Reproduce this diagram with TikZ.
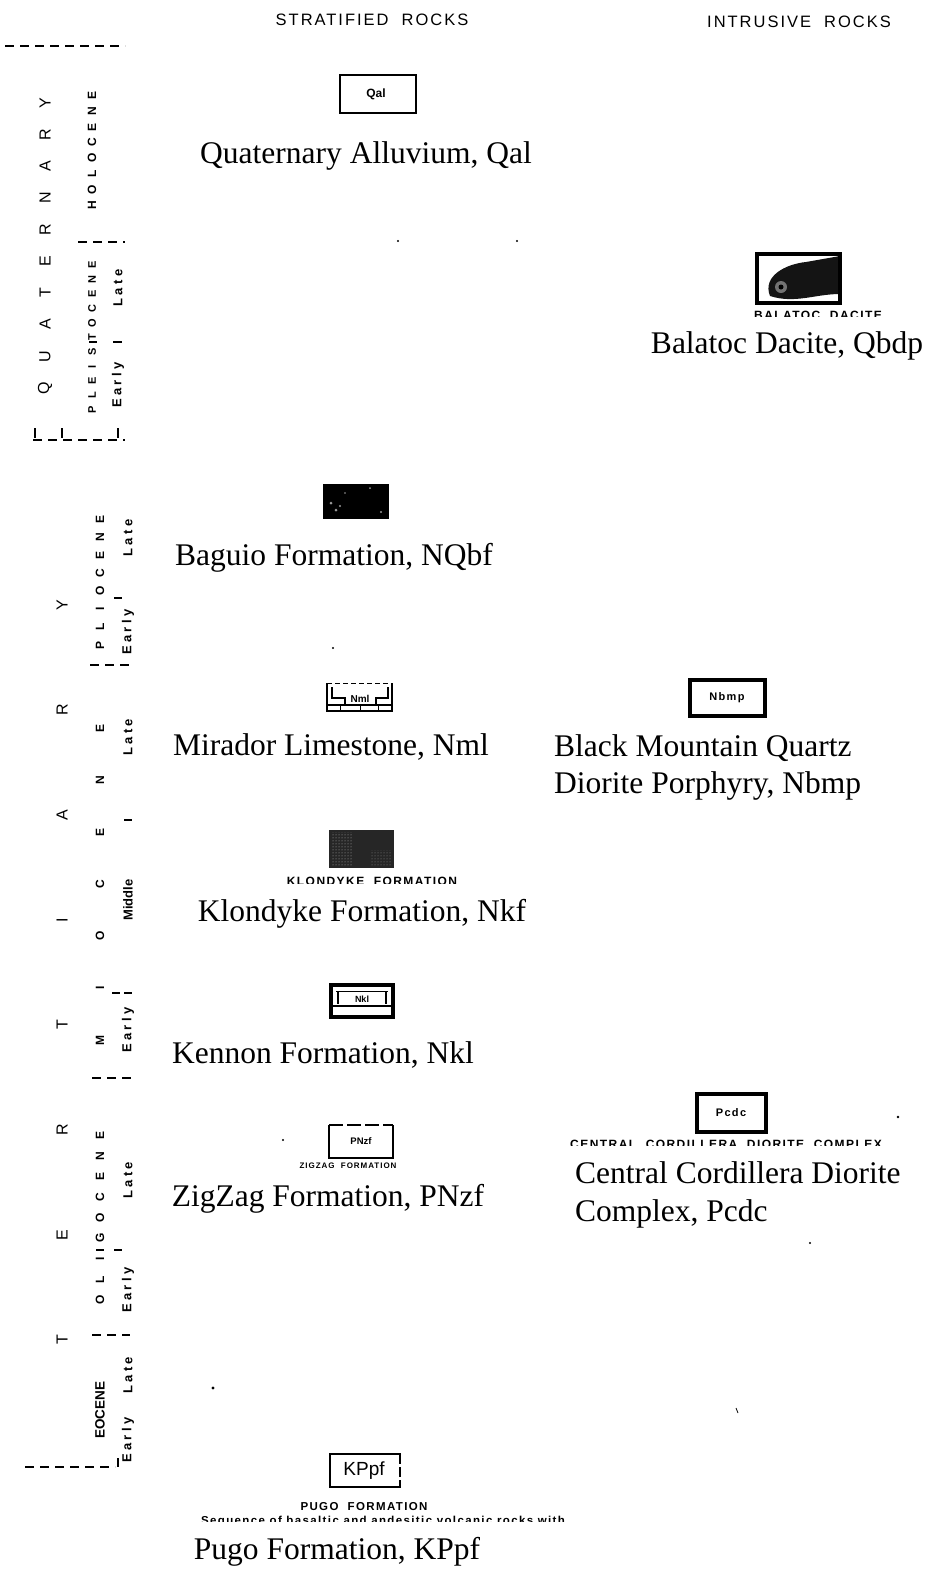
\documentclass[tikz,border=0pt]{standalone}
\usepackage{fontspec}
\setmainfont{Liberation Serif}
\newfontfamily\lsans{Liberation Sans}
\newfontfamily\lsansw[LetterSpace=12]{Liberation Sans}
\newfontfamily\lsansv[LetterSpace=25]{Liberation Sans}
\usetikzlibrary{patterns}
\begin{document}
\begin{tikzpicture}[x=1pt,y=-1pt,
  lbl/.style={font=\fontsize{31.5}{37}\selectfont, inner sep=0pt, anchor=base},
  lbll/.style={lbl, anchor=base west},
  head/.style={font=\lsansw\fontsize{16.5}{18}\selectfont, inner sep=0pt, anchor=base},
  vl/.style={rotate=90, font=\lsans\fontsize{16}{16}\selectfont, inner sep=0pt},
  vs/.style={rotate=90, font=\lsans\bfseries\fontsize{12}{12}\selectfont, inner sep=0pt},
  vw/.style={rotate=90, font=\lsansv\bfseries\fontsize{13}{13}\selectfont, inner sep=0pt},
  cut/.style={font=\lsansw\bfseries\fontsize{12}{12}\selectfont, inner sep=0pt, anchor=north},
  code/.style={font=\lsansw\bfseries\fontsize{11}{11}\selectfont, inner sep=0pt},
  bnd/.style={line width=2pt, dash pattern=on 9pt off 6pt},
  tick/.style={line width=2pt},
  speck/.style={fill=black}
]
\useasboundingbox (0,0) rectangle (937,1585);

% ---------- headings ----------
\node[head] (hstrat) at (372,25) {STRATIFIED\ \ ROCKS};
\node[head] (hintr) at (799,27) {INTRUSIVE\ \ ROCKS};

% ---------- time scale ----------
\draw[bnd] (5,46) -- (125,46);
\foreach \c [count=\i from 0] in {Q,U,A,T,E,R,N,A,R,Y}
  \node[vl] (q\i) at (45,{388-31.7*\i}) {\c};
\foreach \c [count=\i from 0] in {H,O,L,O,C,E,N,E}
  \node[vs] (ho\i) at (92,{205-15.6*\i}) {\c};
\draw[bnd] (78,242) -- (125,242);
\foreach \c [count=\i from 0] in {P,L,E,I,S,T,O,C,E,N,E}
  \node[vs, font=\lsans\bfseries\fontsize{11}{11}\selectfont] (pl\i) at (92,{410-14.5*\i}) {\c};
\node[vw] (plLate) at (118,288) {Late};
\node[vw] (plEarly) at (118,385) {Early};
\draw[tick] (89,342) -- (97,342);
\draw[tick] (113,342) -- (122,342);
\draw[bnd] (33,440) -- (125,440);
\draw[tick] (35,428) -- (35,438);
\draw[tick] (62,428) -- (62,438);
\draw[tick] (118,428) -- (118,438);

\foreach \c [count=\i from 0] in {T,E,R,T,I,A,R,Y}
  \node[vl] (t\i) at (62,{1340-105*\i}) {\c};
\foreach \c [count=\i from 0] in {P,L,I,O,C,E,N,E}
  \node[vs] (pi\i) at (100,{645-18*\i}) {\c};
\node[vw] (piLate) at (128,538) {Late};
\node[vw] (piEarly) at (128,632) {Early};
\draw[tick] (114,598) -- (122,598);
\draw[bnd] (90,665) -- (132,665);

\foreach \c [count=\i from 0] in {M,I,O,C,E,N,E}
  \node[vs] (mi\i) at (100,{1040-52*\i}) {\c};
\node[vw] (miLate) at (128,737) {Late};
\node[vs, font=\lsans\bfseries\fontsize{13}{13}\selectfont] (miMiddle) at (128,900) {Middle};
\node[vw] (miEarly) at (128,1030) {Early};
\draw[tick] (124,820) -- (132,820);
\draw[tick] (112,993) -- (120,993);
\draw[tick] (124,993) -- (132,993);
\draw[bnd] (92,1078) -- (132,1078);

\foreach \c [count=\i from 0] in {O,L,I,G,O,C,E,N,E}
  \node[vs] (ol\i) at (100,{1300-20.6*\i}) {\c};
\node[vw] (olLate) at (128,1180) {Late};
\node[vw] (olEarly) at (128,1290) {Early};
\draw[tick] (96,1250) -- (104,1250);
\draw[tick] (114,1250) -- (122,1250);
\draw[bnd] (92,1335) -- (130,1335);

\node[vs, font=\lsans\bfseries\fontsize{13.5}{13.5}\selectfont] (eo) at (100,1410) {EOCENE};
\node[vw] (eoLate) at (128,1375) {Late};
\node[vw] (eoEarly) at (128,1440) {Early};
\draw[bnd] (25,1467) -- (115,1467);
\draw[tick] (118,1458) -- (118,1467);

% ---------- stratified rocks ----------
\draw[line width=1.5pt] (340,75) rectangle (416,113);
\node[code, font=\lsans\bfseries\fontsize{12}{12}\selectfont] (qal) at (376,94) {Qal};
\node[lbl] (lqal) at (366,163) {Quaternary Alluvium, Qal};

\fill[black] (323,484) rectangle (389,519);
\fill[white!60!black] (331,503) circle (1.5) (345,493) circle (0.9) (370,488) circle (1) (336,510) circle (1.5) (381,512) circle (1.1) (340,506) circle (1.2);
\node[lbl] (lbag) at (334,565) {Baguio Formation, NQbf};

\draw[line width=1.2pt] (327,683) -- (327,712) (392,683) -- (392,712);
\draw[line width=1pt, dash pattern=on 5pt off 3pt] (327,683) -- (392,683);
\draw[line width=1.2pt] (332,687) -- (332,698) -- (345,698) -- (345,704);
\draw[line width=1.2pt] (388,687) -- (388,698) -- (376,698) -- (376,704);
\draw[line width=1.2pt] (327,705) -- (392,705) (327,711) -- (392,711);
\draw[line width=1pt] (340,705) -- (340,711) (360,705) -- (360,711) (378,705) -- (378,711);
\node[code, font=\lsans\bfseries\fontsize{10}{10}\selectfont] (nml) at (360,699) {Nml};
\node[lbl] (lnml) at (331,755) {Mirador Limestone, Nml};

\fill[black!85] (329,830) rectangle (394,868);
\fill[pattern=dots, pattern color=white!70!black] (331,832) rectangle (352,866);
\fill[pattern=dots, pattern color=white!55!black] (370,850) rectangle (392,866);
\begin{scope}
  \clip (270,875) rectangle (480,883);
  \node[cut] (cklon) at (372,877) {KLONDYKE\ \ FORMATION};
\end{scope}
\node[lbl] (lklon) at (362,921) {Klondyke Formation, Nkf};

\draw[line width=4pt] (331,985) rectangle (393,1017);
\draw[line width=1pt] (336,991) -- (388,991);
\draw[line width=1.2pt] (338,991) -- (338,1004) (386,991) -- (386,1004);
\draw[line width=1.2pt] (333,1006) -- (391,1006);
\node[code, font=\lsans\bfseries\fontsize{9}{9}\selectfont] (nkl) at (362,999) {Nkl};
\node[lbl] (lken) at (323,1063) {Kennon Formation, Nkl};

\draw[line width=1.2pt] (329,1125) -- (329,1158) -- (393,1158) -- (393,1125);
\draw[line width=1.2pt, dash pattern=on 14pt off 4pt] (329,1125) -- (393,1125);
\node[code, font=\lsans\bfseries\fontsize{9.5}{9.5}\selectfont] (pnzf) at (361,1141) {PNzf};
\begin{scope}
  \clip (290,1161) rectangle (420,1167);
  \node[cut, font=\lsansw\bfseries\fontsize{8}{8}\selectfont] (czig) at (348,1163) {ZIGZAG\ \ FORMATION};
\end{scope}
\node[lbl] (lzig) at (328,1206) {ZigZag Formation, PNzf};

\draw[line width=1.3pt] (401,1454) -- (330,1454) -- (330,1487) -- (401,1487);
\draw[line width=2.5pt, dash pattern=on 10pt off 3pt] (400,1454) -- (400,1487);
\node[font=\lsans\fontsize{19}{19}\selectfont, inner sep=0pt] (kppf) at (364,1471) {KPpf};
\node[font=\lsansw\bfseries\fontsize{11.5}{11.5}\selectfont, inner sep=0pt, anchor=base] (cpugo) at (364,1510) {PUGO\ \ FORMATION};
\begin{scope}
  \clip (180,1515) rectangle (600,1521);
  \node[cut, font=\lsansw\bfseries\fontsize{11.5}{11.5}\selectfont] (cseq) at (383,1516) {Sequence of basaltic and andesitic volcanic rocks with};
\end{scope}
\node[lbl] (lpugo) at (337,1559) {Pugo Formation, KPpf};

% ---------- intrusive rocks ----------
\fill[black!92] (770,296) .. controls (762,276) and (786,264) .. (806,262) -- (840,256) -- (840,294) .. controls (815,294) and (795,304) .. (770,296) -- cycle;
\fill[white!45!black] (781,287) circle (6);
\fill[black] (781,287) circle (2.5);
\draw[line width=4pt] (757,254) rectangle (840,303);
\begin{scope}
  \clip (740,310) rectangle (900,316);
  \node[cut] (cbal) at (818,311) {BALATOC\ \ DACITE};
\end{scope}
\node[lbl] (lbal) at (787,353) {Balatoc Dacite, Qbdp};

\draw[line width=3.5pt] (690,680) rectangle (765,716);
\node[code] (nbmp) at (727,698) {Nbmp};
\node[lbll] (lbm1) at (554,756) {Black Mountain Quartz};
\node[lbll] (lbm2) at (554,793) {Diorite Porphyry, Nbmp};

\draw[line width=4.5pt] (697,1094) rectangle (766,1132);
\node[code] (pcdc) at (731,1113) {Pcdc};
\begin{scope}
  \clip (550,1139) rectangle (900,1145);
  \node[cut] (ccen) at (726,1140) {CENTRAL\ \ CORDILLERA\ \ DIORITE\ \ COMPLEX};
\end{scope}
\node[lbll] (lcc1) at (575,1183) {Central Cordillera Diorite};
\node[lbll] (lcc2) at (575,1221) {Complex, Pcdc};

\fill[speck] (398,241) circle (1.2) (517,241) circle (1.2) (333,648) circle (1.2)
  (283,1140) circle (1.2) (898,1117) circle (1.3) (810,1243) circle (1.2) (213,1388) circle (1.6);
\draw[line width=0.8pt] (736,1408) -- (738,1413);
\end{tikzpicture}
\end{document}
